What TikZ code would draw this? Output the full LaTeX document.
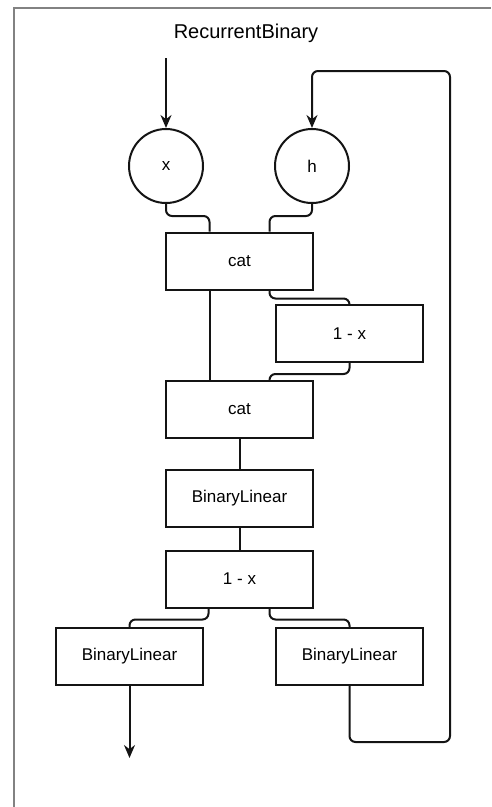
\documentclass[tikz,border=0pt]{standalone}
\usepackage{fontspec}
\setmainfont{Liberation Sans}
\usepackage{xcolor}
\definecolor{framegray}{RGB}{130,130,130}
\definecolor{ink}{RGB}{20,20,20}
\usetikzlibrary{arrows.meta, positioning}
\tikzset{
  opbox/.style={draw=ink, fill=white, line width=2pt,
    minimum width=147pt, minimum height=57pt, inner sep=0pt,
    font=\fontsize{17}{20}\selectfont},
  varnode/.style={circle, draw=ink, fill=white, line width=2pt,
    minimum size=74pt, inner sep=0pt, font=\fontsize{17}{20}\selectfont},
  wire/.style={draw=ink, line width=2pt, rounded corners=6pt},
  flowarrow/.style={wire, -{Stealth[length=13pt, width=11pt]}}
}

\begin{document}
\begin{tikzpicture}[x=1pt, y=-1pt]

  \useasboundingbox (0,0) rectangle (491,807);
  \draw[framegray, line width=2pt] (13.5,807) -- (13.5,7.5) -- (491,7.5);

  % inputs
  \node[font=\fontsize{20}{24}\selectfont] (title) at (246,33) {RecurrentBinary};
  \node[varnode] (xin) at (166,166) {x};
  \node[varnode] (hin) at (312,166) {h};

  % main column
  \node[opbox] (cat1) at (239.5,261) {cat};
  \node[opbox] (negR) at (349.5,333.5) {1 - x};
  \node[opbox, below=89pt of cat1] (cat2) {cat};
  \node[opbox, below=30pt of cat2] (blmid) {BinaryLinear};
  \node[opbox, below=22pt of blmid] (negmid) {1 - x};
  \node[opbox] (blL) at (129.5,656.5) {BinaryLinear};
  \node[opbox] (blR) at (349.5,656.5) {BinaryLinear};

  \coordinate (xsrc) at (166,58);
  \coordinate (outend) at (129.5,758);
  \coordinate (loopR) at (450,742);
  \coordinate (loopT) at (450,71);

  \draw[flowarrow] (xsrc) -- (xin.north);
  \draw[wire] (xin.south) -- ++(0,12) -| ([xshift=-30pt]cat1.north);
  \draw[wire] (hin.south) -- ++(0,12) -| ([xshift=30pt]cat1.north);

  \draw[wire] ([xshift=-30pt]cat1.south) -- ([xshift=-30pt]cat1.south |- cat2.north);
  \draw[wire] ([xshift=30pt]cat1.south) -- ++(0,8) -| (negR.north);
  \draw[wire] (negR.south) -- ++(0,11) -| ([xshift=30pt]cat2.north);

  \draw[wire] (cat2.south) -- (blmid.north);
  \draw[wire] (blmid.south) -- (negmid.north);
  \draw[wire] ([xshift=-31pt]negmid.south) -- ++(0,11) -| (blL.north);
  \draw[wire] ([xshift=30pt]negmid.south) -- ++(0,11) -| (blR.north);

  \draw[flowarrow] (blL.south) -- (outend);
  \draw[flowarrow] (blR.south) |- (loopR) -- (loopT) -| (hin.north);

\end{tikzpicture}
\end{document}
